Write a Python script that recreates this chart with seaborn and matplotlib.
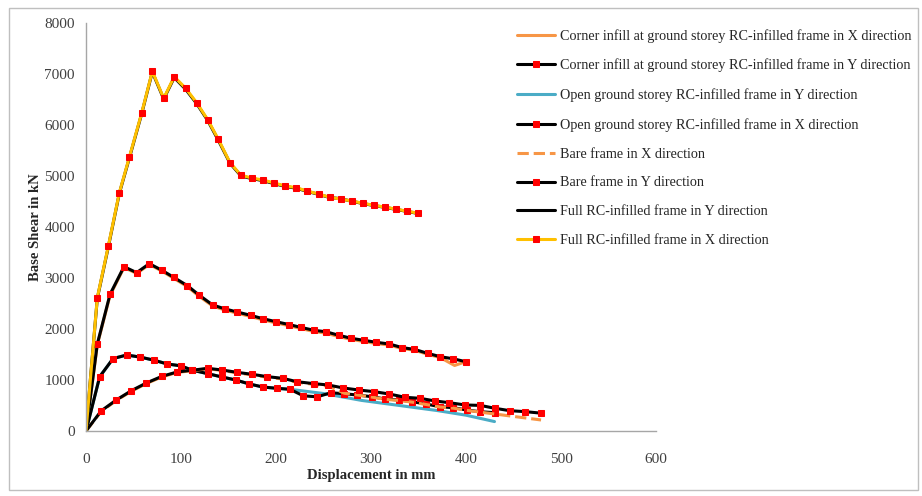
import numpy as np
import pandas as pd
import seaborn as sns
import matplotlib.pyplot as plt
from matplotlib.patches import Rectangle


# Full RC-infilled frame (X direction, Y direction sits underneath)
full_x_disp = [0, 11.9, 23.5, 35.1, 45.6, 58.6, 69.8, 81.8, 92.9, 104.9, 116.5, 128.1, 139.3, 151.6,
               163.2, 174.4, 186, 198.2, 209.8, 221.4, 232.6, 244.9, 256.5, 268.1, 279.7, 291.6,
               303.2, 314.8, 326.4, 338, 349.6]
full_x_shear = [0, 2614, 3627, 4673, 5367, 6235, 7053, 6524, 6947, 6720, 6437, 6104, 5720, 5261,
                5014, 4961, 4922, 4863, 4804, 4771, 4706, 4647, 4582, 4549, 4510, 4465,
                4425, 4390, 4350, 4310, 4270]
full_y_disp = full_x_disp
full_y_shear = [0, 2600, 3610, 4660, 5350, 6220, 7040, 6510, 6930, 6700, 6420, 6090, 5700, 5250,
                5000, 4950, 4910, 4850, 4795, 4760, 4700, 4640, 4578, 4555, 4505, 4460,
                4420, 4385, 4345, 4305, 4265]

# Corner infill at ground storey
corner_y_disp = [0, 11.9, 25.3, 40, 53.3, 66.7, 80, 92.3, 106.7, 118.9, 133.3, 146.6, 159.3, 173.3,
                 186, 200, 213.5, 226, 240, 252.3, 266.3, 279.3, 292.6, 305.6, 319.3, 333, 345.6,
                 359.6, 372.9, 386, 399.7]
corner_y_shear = [0, 1706, 2680, 3222, 3105, 3281, 3150, 3013, 2850, 2667, 2471, 2392, 2333, 2268,
                  2203, 2143, 2088, 2033, 1974, 1947, 1876, 1817, 1778, 1739, 1706, 1634, 1601,
                  1523, 1457, 1418, 1359]
corner_x_disp = [0, 11.9, 25.3, 40, 53.3, 66.7, 80, 92.3, 106.7, 118.9, 133.3, 146.6, 159.3, 173.3,
                 186, 200, 213.5, 226, 240, 252.3, 266.3, 279.3, 292.6, 305.6, 319.3, 333, 345.6,
                 359.6, 372.9, 388, 399.7]
corner_x_shear = [0, 1690, 2660, 3205, 3090, 3265, 3135, 2995, 2830, 2645, 2450, 2370, 2310, 2245,
                  2180, 2120, 2065, 2010, 1950, 1920, 1850, 1795, 1755, 1715, 1685, 1615, 1585,
                  1505, 1440, 1285, 1359]

# Open ground storey
open_x_disp = [0, 14.4, 28.5, 42.8, 57.3, 71.2, 85.6, 99.8, 111.2, 128.1, 143.2, 157.6, 171.9, 186,
               200.7, 214.7, 228.7, 243.3, 257.8, 271.8, 285.5, 300.7, 315, 329.8, 343.5, 357.9,
               372.6, 386.6, 400.7, 414.7, 430.5]
open_x_shear = [0, 1065, 1420, 1490, 1448, 1390, 1314, 1278, 1196, 1124, 1059, 1000, 922, 863,
                837, 818, 690, 670, 750, 730, 706, 673, 627, 608, 575, 529,
                476, 457, 412, 378, 359]
open_y_disp = [0, 14.4, 28.5, 42.8, 57.3, 71.2, 85.6, 99.8, 111.2, 128.1, 143.2, 157.6, 171.9, 186,
               200.7, 214.7, 250, 290, 330, 370, 400, 430]
open_y_shear = [0, 1065, 1420, 1490, 1448, 1390, 1314, 1278, 1196, 1124, 1059, 1000, 922, 863,
                837, 818, 735, 600, 500, 400, 310, 185]

# Bare frame
bare_y_disp = [0, 16, 31.9, 47.7, 63.5, 80, 95.8, 111.2, 128.1, 143.2, 159, 175, 191, 207, 222,
               240, 255, 271, 287, 303.5, 319.3, 335.8, 351.6, 367.7, 382.4, 399.3, 415, 430.5,
               446.3, 462, 479]
bare_y_shear = [0, 395, 608, 790, 941, 1072, 1157, 1190, 1229, 1196, 1150, 1111, 1065, 1033, 967,
                928, 902, 843, 804, 771, 725, 661, 641, 588, 555, 510, 502, 445,
                398, 380, 350]
bare_x_disp = [0, 16, 31.9, 47.7, 63.5, 80, 95.8, 111.2, 128.1, 143.2, 159, 175, 191, 207, 222,
               240, 255, 272, 286, 300.7, 315, 330, 343.5, 358, 372.6, 386.6, 400.7, 415, 430.5,
               446.3, 479]
bare_x_shear = [0, 385, 598, 780, 930, 1062, 1148, 1182, 1220, 1188, 1140, 1100, 1052, 1020, 955,
                915, 880, 740, 705, 665, 620, 598, 565, 520, 470, 448, 405, 370, 333,
                295, 216]

x_ticks = [0, 100, 200, 300, 400, 500, 600]
y_ticks = [0, 1000, 2000, 3000, 4000, 5000, 6000, 7000, 8000]

# label, x, y, line colour, linestyle, marker
series = [
    ("Corner infill at ground storey RC-infilled frame in X direction", corner_x_disp, corner_x_shear, "#F79646", "-", False),
    ("Corner infill at ground storey RC-infilled frame in Y direction", corner_y_disp, corner_y_shear, "black", "-", True),
    ("Open ground storey RC-infilled frame in Y direction", open_y_disp, open_y_shear, "#4BACC6", "-", False),
    ("Open ground storey RC-infilled frame in X direction", open_x_disp, open_x_shear, "black", "-", True),
    ("Bare frame in X direction", bare_x_disp, bare_x_shear, "#F79646", "--", False),
    ("Bare frame in Y direction", bare_y_disp, bare_y_shear, "black", "-", True),
    ("Full RC-infilled frame in Y direction", full_y_disp, full_y_shear, "black", "-", False),
    ("Full RC-infilled frame in X direction", full_x_disp, full_x_shear, "#FFC000", "-", True),
]

sns.set_theme(style="white")
plt.rcParams["font.family"] = ["Liberation Serif", "DejaVu Serif"]

fig = plt.figure(figsize=(9.22, 4.96), dpi=100)
ax = fig.add_axes([86 / 922, 1 - 431 / 496, 570 / 922, 408 / 496])

handles = []
for label, xs, ys, color, ls, mk in series:
    df = pd.DataFrame({"disp": xs, "shear": ys})
    kw = dict(marker="s", markersize=4, markerfacecolor="red", markeredgecolor="red",
              markevery=slice(1, None)) if mk else dict(marker=None)
    sns.lineplot(data=df, x="disp", y="shear", ax=ax, color=color, linestyle=ls,
                 linewidth=2.2, sort=False, estimator=None, **kw)
    handles.append(ax.lines[-1])
    handles[-1].set_label(label)

ax.set_xlim(0, 600)
ax.set_ylim(0, 8000)
ax.set_xticks(x_ticks)
ax.set_yticks(y_ticks)
ax.tick_params(length=0, labelsize=11, colors="#404040")
ax.tick_params(axis="x", pad=16)
ax.tick_params(axis="y", pad=8)
for s in ["top", "right"]:
    ax.spines[s].set_visible(False)
for s in ["left", "bottom"]:
    ax.spines[s].set_color("#A6A6A6")
    ax.spines[s].set_linewidth(1)
ax.set_xlabel("Displacement in mm", fontsize=10.5, fontweight="bold", labelpad=2)
ax.set_ylabel("Base Shear in kN", fontsize=10.5, fontweight="bold", labelpad=2)
ax.grid(False)
if ax.get_legend() is not None:
    ax.get_legend().remove()

fig.legend(handles=handles, loc="upper left", bbox_to_anchor=(517 / 922, 1 - 29 / 496),
           frameon=False, fontsize=10.2, handlelength=2.7, handletextpad=0.3,
           labelspacing=1.12, borderaxespad=0, borderpad=0)

fig.patches.append(Rectangle((9 / 922, 6 / 496), 909 / 922, 482 / 496, transform=fig.transFigure,
                             fill=False, edgecolor="#BFBFBF", linewidth=1))

fig.savefig("out.png", dpi=100)
